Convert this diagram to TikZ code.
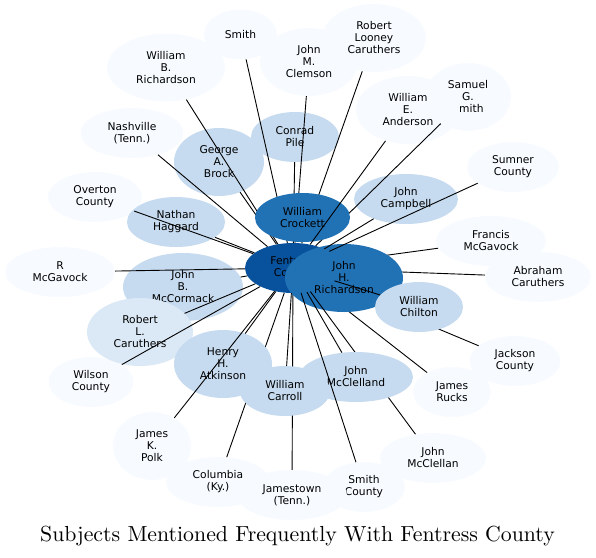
\documentclass[tikz,border=0pt]{standalone}
\usepackage{fontspec}
\usepackage{tikz}
\usetikzlibrary{shapes.geometric}
\usepackage{xcolor}
\definecolor{Pale}{HTML}{F7FBFF}
\definecolor{Mist}{HTML}{C6DBEF}
\definecolor{Haze}{HTML}{DBE9F6}
\definecolor{Mid}{HTML}{2171B5}
\definecolor{Deep}{HTML}{08519C}
\newfontfamily\subjfamily{DejaVu Sans}
\newfontfamily\titlefamily{lmroman10-regular.otf}
\newcommand{\subjfont}{\subjfamily\fontsize{10.7}{12}\selectfont}
\tikzset{
  subj/.style={ellipse, inner sep=0pt, align=center, font=\subjfont,
    minimum height=50pt, fill=#1},
  subj/.default={Pale},
  tall/.style={minimum height=68pt},
  link/.style={line width=0.9pt, black},
}

\begin{document}
\begin{tikzpicture}[x=1pt, y=-1pt]
  \useasboundingbox (0,0) rectangle (596,557);

  % outer subjects
  \node[subj, minimum width=73pt] (smith) at (240.5,34.5) {Smith};
  \node[subj, tall, minimum width=118pt] (wbrich) at (166,67.5) {William\\B.\\Richardson};
  \node[subj, tall, minimum width=98pt] (clemson) at (309,62) {John\\M.\\Clemson};
  \node[subj, tall, minimum width=104pt] (rlooney) at (374,38) {Robert\\Looney\\Caruthers};
  \node[subj, tall, minimum width=86pt] (samuel) at (468,97) {Samuel\\G.\\Smith};
  \node[subj, tall, minimum width=104pt] (wea) at (408,110) {William\\E.\\Anderson};
  \node[subj, minimum width=92pt] (sumner) at (513,167) {Sumner\\County};
  \node[subj=Mist, minimum width=104pt] (campbell) at (406,199) {John\\Campbell};
  \node[subj=Mist, minimum width=88pt] (pile) at (295,137) {Conrad\\Pile};
  \node[subj, minimum width=103pt] (nashville) at (132,133) {Nashville\\(Tenn.)};
  \node[subj, minimum width=94pt] (overton) at (95,197) {Overton\\County};
  \node[subj, minimum width=110pt] (rmcgavock) at (60,272) {R\\McGavock};
  \node[subj, minimum width=110pt] (francis) at (491,241) {Francis\\McGavock};
  \node[subj, minimum width=106pt] (abraham) at (538,277) {Abraham\\Caruthers};
  \node[subj, minimum width=91pt] (jackson) at (515,361) {Jackson\\County};
  \node[subj, minimum width=78pt] (rucks) at (452,392) {James\\Rucks};
  \node[subj, minimum width=106pt] (mcclellan) at (433,458) {John\\McClellan};
  \node[subj, minimum width=82pt] (smithco) at (364,487) {Smith\\County};
  \node[subj, minimum width=104pt] (columbia) at (218,482) {Columbia\\(Ky.)};
  \node[subj, minimum width=110pt] (jamestown) at (292,495) {Jamestown\\(Tenn.)};
  \node[subj, tall, minimum width=78pt] (polk) at (152,446) {James\\K.\\Polk};
  \node[subj, minimum width=85pt] (wilson) at (91,382) {Wilson\\County};

  % centre
  \node[subj=Deep, minimum width=96pt] (fentress) at (293,268) {Fentress\\County};
  \foreach \n in {columbia,jamestown,rucks,francis,abraham,jackson}
    \draw[link] (fentress) -- (\n);
  \node[subj=Mid, tall, minimum width=118pt] (jhr) at (344,278) {John\\H.\\Richardson};
  \draw[link] (fentress) -- (mcclellan);

  % inner ring
  \node[subj=Mist, tall, minimum width=90pt] (brock) at (219,162) {George\\A.\\Brock};
  \node[subj=Mist, minimum width=98pt] (nathan) at (176,222) {Nathan\\Haggard};
  \node[subj=Mist, tall, minimum width=120pt] (mccormack) at (183,287) {John\\B.\\McCormack};
  \node[subj=Haze, tall, minimum width=106pt] (rlcar) at (140,332) {Robert\\L.\\Caruthers};
  \node[subj=Mist, tall, minimum width=98pt] (atkinson) at (223,364) {Henry\\H.\\Atkinson};
  \node[subj=Mist, minimum width=114pt] (mcclelland) at (356,377) {John\\McClelland};
  \node[subj=Mist, minimum width=90pt] (carroll) at (285,391) {William\\Carroll};
  \node[subj=Mist, minimum width=88pt] (chilton) at (419,307) {William\\Chilton};

  \foreach \n in {smith,clemson,rlooney,samuel,pile,brock,wbrich}
    \draw[link] (fentress) -- (\n);
  \node[subj=Mid, minimum width=95pt, minimum height=49pt] (crockett) at (302.5,217.5) {William\\Crockett};

  \foreach \n in {nashville,overton,nathan,rmcgavock,mccormack,rlcar,wilson,polk,
      atkinson,carroll,mcclelland,smithco,chilton,sumner,campbell,wea}
    \draw[link] (fentress) -- (\n);

  \node[font=\titlefamily\fontsize{21.8}{24}\selectfont, anchor=base] (title) at (297.5,541.5)
    {Subjects Mentioned Frequently With Fentress County};
\end{tikzpicture}
\end{document}
